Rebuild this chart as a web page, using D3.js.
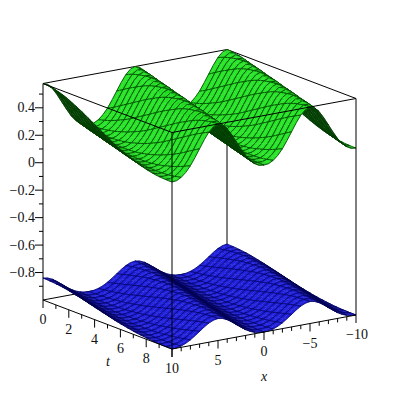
<!DOCTYPE html>
<html lang="en">
  <head>
    <meta charset="utf-8">
    <title>Surface plot</title>
    <script src="https://d3js.org/d3.v7.min.js"></script>
    <style>
      html, body { margin: 0; background: #fff; }
      text { font-family: "Liberation Serif", serif; font-size: 14px; fill: #111; }
    </style>
  </head>
  <body>
    <div id="viz"></div>
    <script type="text/javascript">
    // one half period of each wave, distance from crest 0 to 5 in steps of 0.125
    var greenProfile = [0.577, 0.576, 0.573, 0.569, 0.564, 0.558, 0.550, 0.541, 0.530, 0.518, 0.505,
                        0.493, 0.480, 0.466, 0.451, 0.437, 0.422, 0.407, 0.393, 0.378, 0.364,
                        0.349, 0.335, 0.322, 0.310, 0.299, 0.288, 0.278, 0.268, 0.260, 0.252,
                        0.245, 0.238, 0.232, 0.227, 0.223, 0.220, 0.218, 0.217, 0.216, 0.216];
    var blueProfile = [-0.840, -0.841, -0.842, -0.844, -0.846, -0.849, -0.852, -0.856, -0.861, -0.866, -0.872,
                       -0.877, -0.883, -0.889, -0.896, -0.902, -0.909, -0.915, -0.922, -0.928, -0.934,
                       -0.941, -0.947, -0.953, -0.958, -0.963, -0.968, -0.973, -0.977, -0.981, -0.984,
                       -0.987, -0.990, -0.993, -0.995, -0.997, -0.998, -0.999, -1.000, -1.000, -1.000];

    var xGrid = d3.range(0, 41).map(function(i) { return 10 - i / 2; });
    var tGrid = d3.range(0, 41).map(function(j) { return j / 4; });

    var zMajor = [0.4, 0.2, 0, -0.2, -0.4, -0.6, -0.8];
    var zMinor = [0.5, 0.3, 0.1, -0.1, -0.3, -0.5, -0.7, -0.9];
    var tMajor = [0, 2, 4, 6, 8, 10];
    var tMinor = [1, 3, 5, 7, 9];
    var xMajor = [10, 5, 0, -5, -10];
    var xMinor = [9, 8, 7, 6, 4, 3, 2, 1, -1, -2, -3, -4, -6, -7, -8, -9];

    var w = 400, h = 400;

    // the box is an oblique projection, each data axis adds its own screen offset
    var xToPx = d3.scaleLinear().domain([10, -10]).range([0, 184]);
    var xToPy = d3.scaleLinear().domain([10, -10]).range([0, -34]);
    var tToPx = d3.scaleLinear().domain([0, 10]).range([43, 172]);
    var tToPy = d3.scaleLinear().domain([0, 10]).range([300, 349]);
    var zToPy = d3.scaleLinear().domain([-1, 0.577]).range([0, -216.5]);

    function project(x, t, z) {
      return [xToPx(x) + tToPx(t), xToPy(x) + tToPy(t) + zToPy(z)];
    }

    // distance towards the viewer, for painting back to front
    function depth(x, t, z) {
      return -129 * (10 - x) / 20 + 184 * t / 10 + 62 * (z + 1) / 1.577;
    }

    function profileAt(profile, i, j) {
      // wave moves at speed 1/2, one period is 80 grid steps
      var k = ((xGrid[i] * 8 - j) % 80 + 80) % 80;
      return profile[k <= 40 ? k : 80 - k];
    }

    var svg = d3.select("#viz").append("svg")
      .attr("width", w)
      .attr("height", h)
      .style("display", "block");

    function segment(g, a, b, width) {
      g.append("line")
        .attr("x1", a[0]).attr("y1", a[1])
        .attr("x2", b[0]).attr("y2", b[1])
        .attr("stroke", "#000")
        .attr("stroke-width", width || 1);
    }

    // back edges of the box
    var back = svg.append("g");
    segment(back, project(10, 0, 0.577), project(-10, 0, 0.577));
    segment(back, project(-10, 0, 0.577), project(-10, 10, 0.577));
    segment(back, project(-10, 0, 0.577), project(-10, 0, -1));
    segment(back, project(10, 0, -1), project(-10, 0, -1));
    segment(back, project(-10, 0, -1), project(-10, 10, -1));

    function drawSurface(profile, dark, bright, lineColor, grazing) {
      var quads = [];
      d3.range(xGrid.length - 1).forEach(function(i) {
        d3.range(tGrid.length - 1).forEach(function(j) {
          var corners = [[i, j], [i + 1, j], [i + 1, j + 1], [i, j + 1]].map(function(c) {
            var z = profileAt(profile, c[0], c[1]);
            return { p: project(xGrid[c[0]], tGrid[c[1]], z), d: depth(xGrid[c[0]], tGrid[c[1]], z) };
          });
          var pts = corners.map(function(c) { return c.p; });
          quads.push({ i: i, j: j, pts: pts, depth: d3.mean(corners, function(c) { return c.d; }), area: -d3.polygonArea(pts) });
        });
      });
      quads.sort(function(a, b) { return a.depth - b.depth; });

      var fullArea = d3.max(quads, function(q) { return q.area; });
      var shade = d3.interpolateRgb(dark, bright);
      var g = svg.append("g");
      var line = d3.line();
      quads.forEach(function(q) {
        // faces turned away come out dark, faces seen at a grazing angle go darker too
        var c = q.area > 0 ? shade(0.2 + 0.8 * Math.min(1, q.area / (fullArea * grazing))) : shade(0.05);
        g.append("path")
          .attr("d", line(q.pts) + "Z")
          .attr("fill", c)
          .attr("stroke", c)
          .attr("stroke-width", 0.4);
        // every second grid line is part of the drawn mesh
        var edges = [];
        if (q.j % 2 === 0) edges.push([q.pts[0], q.pts[1]]);
        else edges.push([q.pts[3], q.pts[2]]);
        if (q.i % 2 === 0) edges.push([q.pts[0], q.pts[3]]);
        else edges.push([q.pts[1], q.pts[2]]);
        edges.forEach(function(e) {
          g.append("path")
            .attr("d", line(e))
            .attr("fill", "none")
            .attr("stroke", lineColor)
            .attr("stroke-width", 1);
        });
      });
    }

    drawSurface(blueProfile, "#000010", "#2020dc", "rgba(0,0,90,0.7)", 0.55);
    drawSurface(greenProfile, "#063c06", "#28e428", "rgba(0,60,0,0.8)", 0.42);

    // front edges of the box
    var front = svg.append("g");
    segment(front, project(10, 0, 0.577), project(10, 10, 0.577));
    segment(front, project(10, 10, 0.577), project(-10, 10, 0.577));
    segment(front, project(10, 10, 0.577), project(10, 10, -1));
    segment(front, project(10, 0, 0.577), project(10, 0, -1));
    segment(front, project(-10, 10, 0.577), project(-10, 10, -1));
    segment(front, project(10, 0, -1), project(10, 10, -1));
    segment(front, project(10, 10, -1), project(-10, 10, -1));

    // z axis on the left edge
    var axes = svg.append("g");
    zMajor.forEach(function(z) {
      var p = project(10, 0, z);
      segment(axes, [p[0] - 8, p[1]], p);
      axes.append("text")
        .attr("x", p[0] - 8).attr("y", p[1] + 4.5)
        .attr("text-anchor", "end")
        .text(z < 0 ? "\u2212" + Math.abs(z) : z);
    });
    zMinor.forEach(function(z) {
      var p = project(10, 0, z);
      segment(axes, [p[0] - 4, p[1]], p);
    });

    // t axis along the front left edge
    tMajor.forEach(function(t) {
      var p = project(10, t, -1);
      segment(axes, p, [p[0], p[1] + 8]);
      axes.append("text")
        .attr("x", p[0]).attr("y", p[1] + 24)
        .attr("text-anchor", "middle")
        .text(t);
    });
    tMinor.forEach(function(t) {
      var p = project(10, t, -1);
      segment(axes, p, [p[0], p[1] + 4]);
    });

    // x axis along the front right edge
    xMajor.forEach(function(x) {
      var p = project(x, 10, -1);
      segment(axes, p, [p[0], p[1] + 8]);
      if (x !== 10) {
        axes.append("text")
          .attr("x", p[0] + (x === -10 ? 1 : 0)).attr("y", p[1] + 24)
          .attr("text-anchor", "middle")
          .text(x < 0 ? "\u2212" + Math.abs(x) : x);
      }
    });
    xMinor.forEach(function(x) {
      var p = project(x, 10, -1);
      segment(axes, p, [p[0], p[1] + 4]);
    });

    axes.append("text").attr("x", 108).attr("y", 366)
      .attr("text-anchor", "middle").style("font-style", "italic").text("t");
    axes.append("text").attr("x", 264).attr("y", 381)
      .attr("text-anchor", "middle").style("font-style", "italic").text("x");
    </script>
  </body>
</html>
